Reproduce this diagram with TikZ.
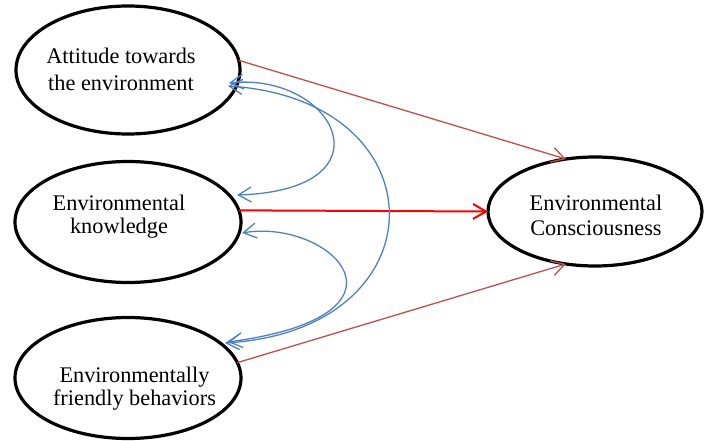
\documentclass[tikz,border=0pt]{standalone}
\usepackage{fontspec}
\setmainfont{Liberation Serif}
\usetikzlibrary{arrows.meta,calc,shapes.geometric}
\definecolor{linkblue}{HTML}{4F81BD}
\definecolor{pathred}{HTML}{C0504D}
\definecolor{mainred}{HTML}{FF0000}
% two centred lines whose baseline is the baseline of the first line
\newcommand{\twolines}[2]{\begin{tabular}[t]{@{}c@{}}#1\\#2\end{tabular}}
\begin{document}
\begin{tikzpicture}[x=1pt,y=-1pt,
  >={Straight Barb[length=13pt,width=15pt]},
  construct/.style={draw=black, line width=3.2pt, ellipse, inner sep=0pt, outer sep=0pt},
  caption/.style={inner sep=0pt, anchor=base},
  redpath/.style={draw=pathred, line width=1.3pt},
  mainpath/.style={draw=mainred, line width=2pt},
  assoc/.style={draw=linkblue, line width=1.3pt}]
\useasboundingbox (0,0) rectangle (704,441);

% latent constructs
\node[construct, minimum width=224pt, minimum height=128pt] (att)  at (128,70)    {};
\node[construct, minimum width=226pt, minimum height=121pt] (know) at (128,222)   {};
\node[construct, minimum width=226pt, minimum height=121pt] (beh)  at (128,378)   {};
\node[construct, minimum width=214pt, minimum height=109pt] (cons) at (595,211.5) {};

% construct names
\node[caption, font=\fontsize{22.3}{26.7}\selectfont] (attT)  at (121,64)
  {\twolines{Attitude towards}{the environment}};
\node[caption, font=\fontsize{22.3}{22.6}\selectfont] (knowT) at (119,210.7)
  {\twolines{Environmental}{knowledge}};
\node[caption, font=\fontsize{22.3}{22.3}\selectfont] (behT)  at (134.5,382.7)
  {\twolines{Environmentally}{friendly behaviors}};
\node[caption, font=\fontsize{22.3}{25}\selectfont]   (consT) at (596,210)
  {\twolines{Environmental}{Consciousness}};

% direct effects
\draw[redpath, ->]  (att.5)  -- (cons.119);
\draw[mainpath, ->] (know.6) -- (cons.west);
\draw[redpath, ->]  (beh.8)  -- (cons.-119);

% correlations between the predictors
\draw[assoc, <->] ($(att)+(101,13)$) .. controls (335,72) and (395,190) .. ($(know)+(109,-27)$);
\draw[assoc, <->] ($(att)+(100,16)$) .. controls (443,100) and (443,330) .. ($(beh)+(97,-35)$);
\draw[assoc, <->] ($(know)+(114,11)$) .. controls (330,218) and (430,315) .. ($(beh)+(100,-36)$);
\end{tikzpicture}
\end{document}
